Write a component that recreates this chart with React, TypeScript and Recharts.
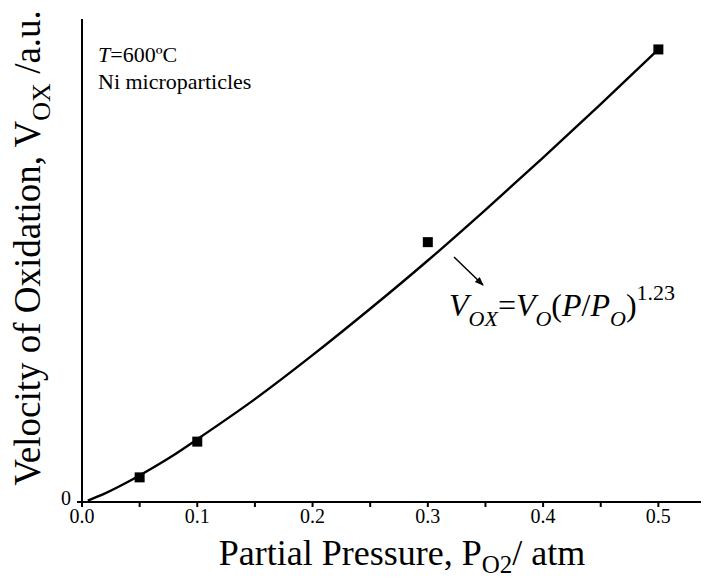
import { ComposedChart, Line, Scatter, XAxis, YAxis } from 'recharts';

// measured points (P_O2 in atm, velocity in a.u.)
const pressure = [0.05, 0.1, 0.3, 0.5];
const velocity = [0.051, 0.125, 0.538, 0.937];

// fitted curve
const fitPressure = [0.005, 0.02, 0.04, 0.06, 0.08, 0.1, 0.15, 0.2, 0.25, 0.3, 0.35, 0.4, 0.45, 0.5];
const fitVelocity = [0.003, 0.018, 0.042, 0.069, 0.098, 0.13, 0.213, 0.304, 0.4, 0.5, 0.605, 0.713, 0.824, 0.937];

const xTicks = [0, 0.05, 0.1, 0.15, 0.2, 0.25, 0.3, 0.35, 0.4, 0.45, 0.5];
const yTicks = [0];

const points = pressure.map((p, i) => ({ x: p, y: velocity[i] }));
const fit = fitPressure.map((p, i) => ({ x: p, y: fitVelocity[i] }));

const FONT = "'Liberation Serif', 'Times New Roman', 'DejaVu Serif', serif";

const Square = (props: any) => {
  const { cx, cy } = props;
  return <rect x={cx - 5} y={cy - 5} width={10} height={10} fill="#000" />;
};

const App = () => {
  return (
    <div style={{ position: 'relative', width: 701, height: 571, overflow: 'hidden', fontFamily: FONT }}>
      <ComposedChart width={720} height={571} margin={{ top: 11, right: 12, bottom: 47, left: 54 }} style={{ fontFamily: FONT }}>
        <XAxis
          xAxisId="top"
          orientation="top"
          type="number"
          dataKey="x"
          domain={[0, 0.55]}
          height={0}
          tick={false}
          tickLine={false}
          axisLine={{ stroke: '#000', strokeWidth: 2 }}
        />
        <XAxis
          type="number"
          dataKey="x"
          domain={[0, 0.55]}
          ticks={xTicks}
          height={30}
          interval={0}
          tickSize={5}
          tickMargin={2}
          tickFormatter={(v: number) => (Math.round(v * 100) % 10 === 0 ? v.toFixed(1) : '')}
          tick={{ fill: '#000', fontSize: 20, style: { fontFamily: FONT } }}
          tickLine={{ stroke: '#000', strokeWidth: 2 }}
          axisLine={{ stroke: '#000', strokeWidth: 2 }}
        />
        <YAxis
          type="number"
          dataKey="y"
          domain={[0, 1]}
          ticks={yTicks}
          width={20}
          tickSize={5}
          tickMargin={6}
          tick={{ fill: '#000', fontSize: 20, dy: -4, style: { fontFamily: FONT } }}
          tickLine={{ stroke: '#000', strokeWidth: 2 }}
          axisLine={{ stroke: '#000', strokeWidth: 2 }}
        />
        <Line
          data={fit}
          dataKey="y"
          type="monotone"
          stroke="#000"
          strokeWidth={2.4}
          dot={false}
          isAnimationActive={false}
        />
        <Scatter data={points} dataKey="y" shape={<Square />} isAnimationActive={false} />
      </ComposedChart>
      <svg
        width={701}
        height={571}
        style={{ position: 'absolute', left: 0, top: 0, pointerEvents: 'none', fontFamily: FONT }}
      >
        <defs>
          <marker id="arrowhead" markerWidth="10" markerHeight="10" refX="8" refY="5" orient="auto" markerUnits="userSpaceOnUse">
            <path d="M0,1.5 L9,5 L0,8.5 Z" fill="#000" />
          </marker>
        </defs>
        <text x={90} y={54} fontSize={22} fill="#000">
          <tspan fontStyle="italic">T</tspan>=600ºC
        </text>
        <text x={90} y={81} fontSize={22} fill="#000">Ni microparticles</text>
        <line x1={446} y1={249} x2={475} y2={277} stroke="#000" strokeWidth={1.5} markerEnd="url(#arrowhead)" />
        <text x={441} y={308} fontSize={32} fill="#000">
          <tspan fontStyle="italic">V</tspan>
          <tspan fontStyle="italic" fontSize={22} dy={10}>OX</tspan>
          <tspan dy={-10}>=</tspan>
          <tspan fontStyle="italic">V</tspan>
          <tspan fontStyle="italic" fontSize={22} dy={10}>O</tspan>
          <tspan dy={-10}>(</tspan>
          <tspan fontStyle="italic">P</tspan>
          <tspan>/</tspan>
          <tspan fontStyle="italic">P</tspan>
          <tspan fontStyle="italic" fontSize={22} dy={10}>O</tspan>
          <tspan dy={-10}>)</tspan>
          <tspan fontSize={22} dy={-16}>1.23</tspan>
        </text>
        <text x={394} y={557} fontSize={36} fill="#000" textAnchor="middle">
          Partial Pressure, P<tspan fontSize={25} dy={8}>O2</tspan>
          <tspan dy={-8}>/ atm</tspan>
        </text>
        <text
          x={0}
          y={0}
          fontSize={37}
          fill="#000"
          textAnchor="middle"
          transform="translate(32, 240) rotate(-90)"
        >
          Velocity of Oxidation, V<tspan fontSize={26} dy={10}>OX</tspan>
          <tspan dy={-10}> /a.u.</tspan>
        </text>
      </svg>
    </div>
  );
};

export default App;
